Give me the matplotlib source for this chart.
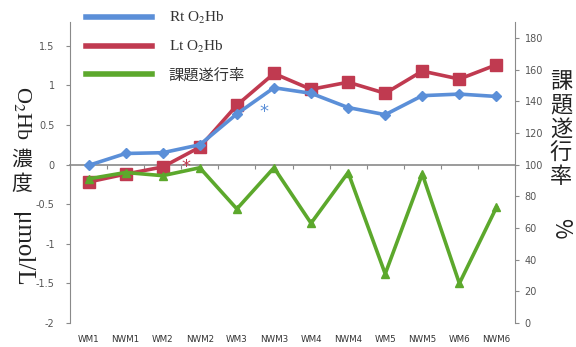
import matplotlib
matplotlib.use("Agg")
import matplotlib.pyplot as plt
import numpy as np

plt.rcParams['mathtext.fontset'] = 'stix'

# ---- data ----
categories = ["WM1", "NWM1", "WM2", "NWM2", "WM3", "NWM3",
              "WM4", "NWM4", "WM5", "NWM5", "WM6", "NWM6"]
rt_o2hb = [-0.01, 0.14, 0.15, 0.25, 0.64, 0.97, 0.90, 0.72, 0.63, 0.87, 0.89, 0.86]
lt_o2hb = [-0.22, -0.12, -0.03, 0.22, 0.75, 1.15, 0.95, 1.04, 0.90, 1.18, 1.08, 1.26]
task_rate = [91, 95, 93, 98, 72, 98, 63, 95, 31, 94, 25, 73]
# significance marks (x position between categories, y in µmol/L)
sig_rt = (4.72, 0.67)
sig_lt = (2.64, -0.03)

left_ticks = [-2, -1.5, -1, -0.5, 0, 0.5, 1, 1.5]
left_ticklabels = ["-2", "-1.5", "-1", "-0.5", "0", "0.5", "1", "1.5"]
right_ticks = [0, 20, 40, 60, 80, 100, 120, 140, 160, 180]

c_blue = "#5b8fd8"
c_red = "#c03a50"
c_green = "#5ca82c"
c_axis = "#8a8a8a"
c_tick = "#555555"

fig = plt.figure(figsize=(5.76, 3.47), dpi=100)
ax = fig.add_axes([70 / 576, 1 - 323 / 347, 445 / 576, 301 / 347])
ax2 = ax.twinx()

x = np.arange(len(categories))

lb, = ax.plot(x, rt_o2hb, color=c_blue, lw=2.6, marker="D", ms=5.5,
              mec=c_blue, mfc=c_blue, zorder=4)
lr, = ax.plot(x, lt_o2hb, color=c_red, lw=2.6, marker="s", ms=8,
              mec=c_red, mfc=c_red, zorder=3)
lg, = ax2.plot(x, task_rate, color=c_green, lw=2.6, marker="^", ms=5.5,
               mec=c_green, mfc=c_green, zorder=3)

ax.text(sig_rt[0], sig_rt[1], "*", color=c_blue, fontsize=13,
        ha="center", va="center", family="DejaVu Sans")
ax.text(sig_lt[0], sig_lt[1], "*", color=c_red, fontsize=13,
        ha="center", va="center", family="DejaVu Sans")

ax.set_xlim(-0.5, len(categories) - 0.5)
ax.set_ylim(-2, 1.8)
ax2.set_ylim(0, 190)

for a in (ax, ax2):
    for s in a.spines.values():
        s.set_visible(False)
    a.patch.set_visible(False)

ax.spines['left'].set_visible(True)
ax.spines['left'].set_color(c_axis)
ax2.spines['right'].set_visible(True)
ax2.spines['right'].set_color(c_axis)

# zero line acts as the category axis, with ticks between categories
ax.spines['bottom'].set_visible(True)
ax.spines['bottom'].set_position(('data', 0))
ax.spines['bottom'].set_color(c_axis)
ax.spines['bottom'].set_linewidth(1.2)
ax.set_xticks(np.arange(len(categories) + 1) - 0.5)
ax.tick_params(axis='x', direction='out', length=3, color=c_axis, labelbottom=False)

sec = ax.secondary_xaxis('bottom')
sec.spines['bottom'].set_visible(False)
sec.set_xticks(x)
sec.set_xticklabels(categories, fontsize=6.3, color="#333333",
                    family=["Liberation Sans Narrow", "DejaVu Sans"])
sec.tick_params(axis='x', length=0, pad=9)

ax.set_yticks(left_ticks)
ax.set_yticklabels(left_ticklabels)
ax.tick_params(axis='y', direction='out', length=3, color=c_axis,
               labelsize=7, labelcolor=c_tick, pad=8)
ax2.set_yticks(right_ticks)
ax2.tick_params(axis='y', direction='out', length=3, color=c_axis,
                labelsize=7, labelcolor=c_tick, pad=4)

# legend
leg = fig.legend([lb, lr, lg], ["Rt O$_2$Hb", "Lt O$_2$Hb", "課題遂行率"],
                 loc="upper left", bbox_to_anchor=(80 / 576, 1 - 4 / 347),
                 frameon=False, handlelength=4.3, handletextpad=1.1,
                 labelspacing=0.85, borderaxespad=0,
                 prop={'family': ['Liberation Serif', 'Noto Sans CJK JP'], 'size': 11})
for t in leg.get_texts():
    t.set_color("#333333")
for h in leg.get_lines():
    h.set_marker("")
    h.set_linewidth(4)

# left axis title, vertical layout
serif = ['Liberation Serif', 'DejaVu Serif']
cjk = ['Noto Sans CJK JP', 'DejaVu Sans']
fig.text(22 / 576, 1 - 113 / 347, "O$_2$Hb", rotation=-90, fontsize=16,
         ha="center", va="center", family=serif, color="#222222")
fig.text(22 / 576, 1 - 160 / 347, "濃", fontsize=15, ha="center", va="center",
         family=cjk, color="#222222")
fig.text(22 / 576, 1 - 184 / 347, "度", fontsize=15, ha="center", va="center",
         family=cjk, color="#222222")
fig.text(22 / 576, 1 - 249 / 347, "μmol/L", rotation=-90, fontsize=18,
         ha="center", va="center", family=serif, color="#222222")

# right axis title, vertical layout
for i, ch in enumerate("課題遂行率"):
    fig.text(561 / 576, 1 - (81 + 24 * i) / 347, ch, fontsize=16,
             ha="center", va="center", family=cjk, color="#222222")
fig.text(561 / 576, 1 - 228 / 347, "%", rotation=-90, fontsize=16,
         ha="center", va="center", family=cjk, color="#222222")

fig.savefig("out.png", dpi=100, facecolor="white")
